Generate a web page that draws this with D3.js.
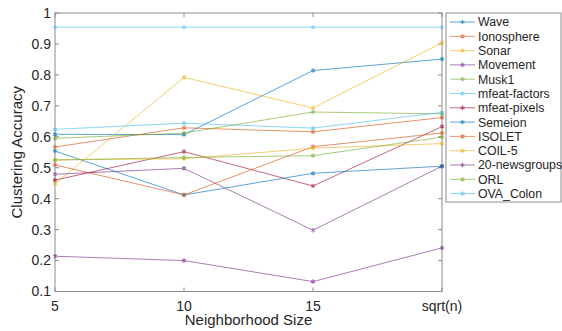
<!DOCTYPE html>
<html>
<head>
<meta charset="utf-8">
<script src="https://cdn.jsdelivr.net/npm/d3@7"></script>
<style>
  body { margin: 0; background: #fff; }
  text { font-family: "Liberation Sans", Arial, sans-serif; fill: #262626; }
</style>
</head>
<body>
<svg width="562" height="331"></svg>
<script>
// Data
var sizes = ["5", "10", "15", "sqrt(n)"];
var names = ["Wave", "Ionosphere", "Sonar", "Movement", "Musk1", "mfeat-factors",
             "mfeat-pixels", "Semeion", "ISOLET", "COIL-5", "20-newsgroups", "ORL", "OVA_Colon"];
var wave         = [0.608, 0.607, 0.814, 0.851];
var ionosphere   = [0.567, 0.629, 0.616, 0.662];
var sonar        = [0.448, 0.792, 0.693, 0.904];
var movement     = [0.479, 0.498, 0.298, 0.505];
var musk1        = [0.595, 0.612, 0.680, 0.674];
var mfeatFactors = [0.624, 0.644, 0.628, 0.679];
var mfeatPixels  = [0.460, 0.552, 0.441, 0.633];
var semeion      = [0.554, 0.412, 0.482, 0.505];
var isolet       = [0.509, 0.412, 0.568, 0.612];
var coil5        = [0.525, 0.529, 0.563, 0.578];
var newsgroups   = [0.214, 0.200, 0.132, 0.241];
var orl          = [0.525, 0.533, 0.539, 0.599];
var ovaColon     = [0.954, 0.954, 0.954, 0.954];
var allSeries = [wave, ionosphere, sonar, movement, musk1, mfeatFactors,
                 mfeatPixels, semeion, isolet, coil5, newsgroups, orl, ovaColon];
var yTicks = [0.1, 0.2, 0.3, 0.4, 0.5, 0.6, 0.7, 0.8, 0.9, 1];

// MATLAB default colour order
var palette = ["#0072BD", "#D95319", "#EDB120", "#7E2F8E", "#77AC30", "#4DBEEE", "#A2142F"];
var color = function (i) { return palette[i % palette.length]; };

var svg = d3.select("svg");
var plotL = 55, plotR = 442, plotT = 13, plotB = 291.5;

var x = d3.scalePoint().domain(sizes).range([plotL, plotR]);
var y = d3.scaleLinear().domain([0.1, 1]).range([plotB, plotT]);

// Axes box
var axisColor = "#8c8c8c";
svg.append("rect")
    .attr("x", plotL).attr("y", plotT)
    .attr("width", plotR - plotL).attr("height", plotB - plotT)
    .attr("fill", "none").attr("stroke", axisColor).attr("stroke-width", 1);

// inward ticks on all four sides
var tickLen = 4;
sizes.forEach(function (s) {
    svg.append("line").attr("x1", x(s)).attr("x2", x(s)).attr("y1", plotB).attr("y2", plotB - tickLen)
        .attr("stroke", axisColor);
    svg.append("line").attr("x1", x(s)).attr("x2", x(s)).attr("y1", plotT).attr("y2", plotT + tickLen)
        .attr("stroke", axisColor);
    svg.append("text").attr("x", x(s)).attr("y", plotB + 19)
        .attr("text-anchor", "middle").style("font-size", "14px").text(s);
});
yTicks.forEach(function (t) {
    svg.append("line").attr("x1", plotL).attr("x2", plotL + tickLen).attr("y1", y(t)).attr("y2", y(t))
        .attr("stroke", axisColor);
    svg.append("line").attr("x1", plotR).attr("x2", plotR - tickLen).attr("y1", y(t)).attr("y2", y(t))
        .attr("stroke", axisColor);
    svg.append("text").attr("x", plotL - 4).attr("y", y(t)).attr("dy", "0.35em")
        .attr("text-anchor", "end").style("font-size", "14px").text(d3.format("~g")(t));
});

// Axis titles
svg.append("text").attr("x", (plotL + plotR) / 2).attr("y", 325)
    .attr("text-anchor", "middle").style("font-size", "15px").text("Neighborhood Size");
svg.append("text").attr("transform", "translate(22," + ((plotT + plotB) / 2) + ")rotate(-90)")
    .attr("text-anchor", "middle").style("font-size", "15px").text("Clustering Accuracy");

// Lines and markers
var line = d3.line().x(function (d, i) { return x(sizes[i]); }).y(function (d) { return y(d); });
var marker = d3.symbol().type(d3.symbolAsterisk).size(14);

allSeries.forEach(function (vals, k) {
    var g = svg.append("g").attr("opacity", 0.7);
    g.append("path").datum(vals).attr("d", line)
        .attr("fill", "none").attr("stroke", color(k)).attr("stroke-width", 0.9);
    g.selectAll("path.m").data(vals).enter().append("path").attr("class", "m")
        .attr("transform", function (d, i) { return "translate(" + x(sizes[i]) + "," + y(d) + ")"; })
        .attr("d", marker).attr("fill", "none").attr("stroke", color(k)).attr("stroke-width", 1.1);
});

// Legend
var lgX = 446, lgY = 13, lgW = 115, rowH = 14.3;
svg.append("rect").attr("x", lgX).attr("y", lgY).attr("width", lgW).attr("height", 189)
    .attr("fill", "#fff").attr("stroke", axisColor);
names.forEach(function (n, k) {
    var cy = lgY + 9 + k * rowH;
    var g = svg.append("g").attr("opacity", 0.7);
    g.append("line").attr("x1", lgX + 4).attr("x2", lgX + 29).attr("y1", cy).attr("y2", cy)
        .attr("stroke", color(k)).attr("stroke-width", 0.9);
    g.append("path").attr("transform", "translate(" + (lgX + 16.5) + "," + cy + ")")
        .attr("d", marker).attr("fill", "none").attr("stroke", color(k)).attr("stroke-width", 1.1);
    svg.append("text").attr("x", lgX + 32).attr("y", cy).attr("dy", "0.36em")
        .style("font-size", "12.3px").text(n);
});
</script>
</body>
</html>
